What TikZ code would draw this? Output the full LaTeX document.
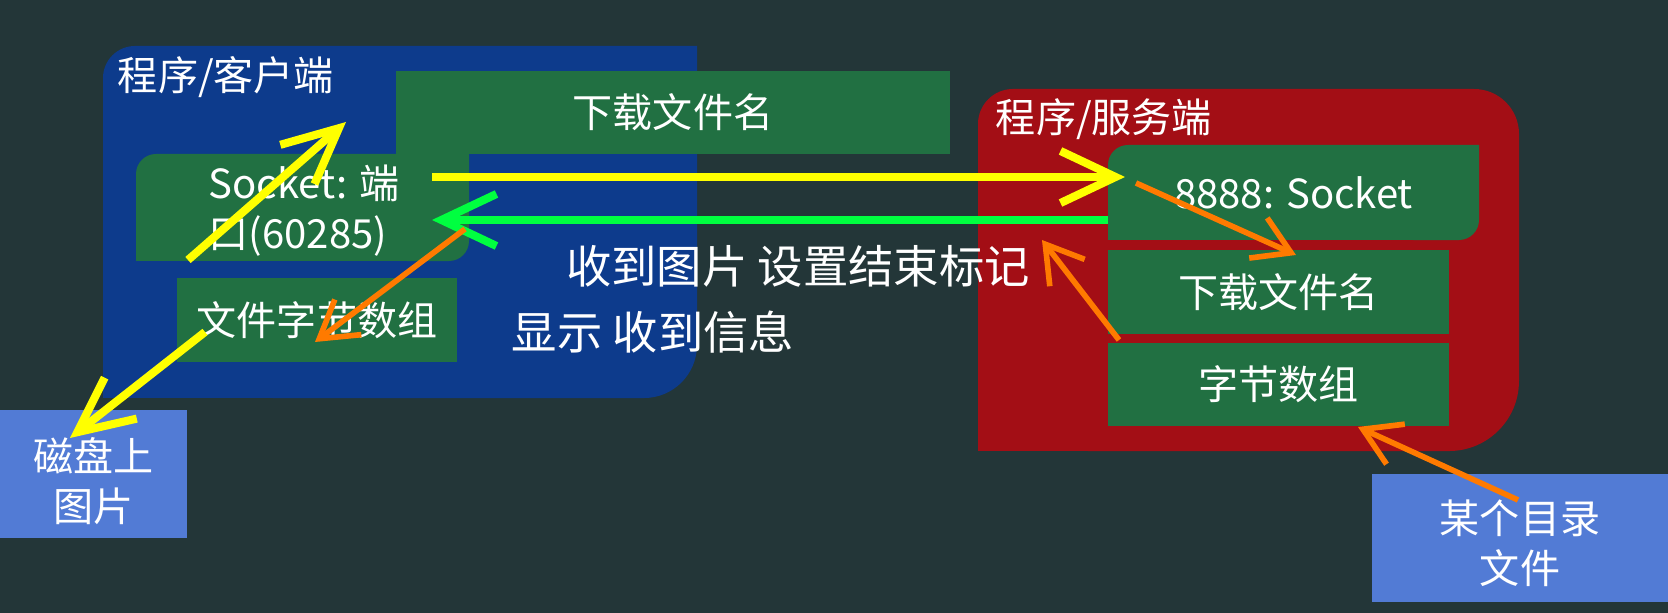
\documentclass[tikz,border=0pt]{standalone}
\usepackage{fontspec}
\setmainfont{Noto Sans CJK SC}
\usetikzlibrary{arrows.meta}
\definecolor{slate}{HTML}{233638}
\definecolor{clientblue}{HTML}{0D3B8C}
\definecolor{serverred}{HTML}{A30E15}
\definecolor{boxgreen}{HTML}{217042}
\definecolor{filebox}{HTML}{527BD5}
\definecolor{ylw}{HTML}{FFFF00}
\definecolor{grn}{HTML}{00FF40}
\definecolor{org}{HTML}{FF7A00}
\begin{document}
\begin{tikzpicture}[x=0.01cm, y=-0.01cm,
txt/.style={text=white, inner sep=0pt, align=center, font=\fontsize{11.4}{14.2}\selectfont},
note/.style={txt, font=\fontsize{12.9}{15}\selectfont},
part/.style={txt, fill=boxgreen},
file/.style={txt, fill=filebox},
send/.style={-{Straight Barb[length=5.5mm,width=5.2mm]}, line width=2.3pt},
move/.style={-{Straight Barb[length=3.6mm,width=4.4mm]}, line width=1.6pt, draw=org}
]
\fill[slate] (0,0) rectangle (1668,613);
\useasboundingbox (0,0) rectangle (1668,613);

% client side
\fill[clientblue] (103,398) -- (103,78) arc[start angle=180, end angle=90, radius=3.2mm]
  -- (697,46) -- (697,345) arc[start angle=0, end angle=-90, radius=5.3mm] -- cycle;
\fill[boxgreen] (136,261) -- (136,174) arc[start angle=180, end angle=90, radius=2mm]
  -- (469,154) -- (469,241) arc[start angle=0, end angle=-90, radius=2mm] -- cycle;
\node[txt] (clabel) at (226,77) {程序/客户端};
\node[part, minimum width=5.54cm, minimum height=0.83cm] (cname) at (673,112.5) {下载文件名};
\node[txt, align=left] (csock) at (304,211) {Socket: 端\\口(60285)};
\node[part, minimum width=2.8cm, minimum height=0.84cm] (cbytes) at (317,320) {文件字节数组};
\node[file, minimum width=1.87cm, minimum height=1.28cm] (disk) at (93.5,474) {};
\node[txt] (disktext) at (93.5,481) {磁盘上\\图片};

% server side
\fill[serverred] (978,451) -- (978,124) arc[start angle=180, end angle=90, radius=3.5mm]
  -- (1474,89) arc[start angle=90, end angle=0, radius=4.5mm]
  -- (1519,381) arc[start angle=0, end angle=-90, radius=7mm] -- cycle;
\fill[boxgreen] (1108,240) -- (1108,165) arc[start angle=180, end angle=90, radius=2mm]
  -- (1479,145) -- (1479,220) arc[start angle=0, end angle=-90, radius=2mm] -- cycle;
\node[txt] (slabel) at (1104,119) {程序/服务端};
\node[txt, minimum width=3.71cm, minimum height=0.95cm] (ssock) at (1293.5,192.5) {8888: Socket};
\node[part, minimum width=3.41cm, minimum height=0.84cm] (sname) at (1278.5,292) {下载文件名};
\node[part, minimum width=3.41cm, minimum height=0.83cm] (sbytes) at (1278.5,384.5) {字节数组};
\node[file, minimum width=2.96cm, minimum height=1.28cm] (dir) at (1520,538) {};
\node[txt] (dirtext) at (1520,543) {某个目录\\文件};

\node[note] (recv) at (798,266) {收到图片 设置结束标记};
\node[note] (shown) at (653,332) {显示 收到信息};

% arrow ends
\coordinate (upfrom) at (188,260);
\coordinate (upto) at (346,122);
\coordinate (reqfrom) at (432,177);
\coordinate (reqto) at (1125,177);
\coordinate (ackfrom) at (1108,220);
\coordinate (ackto) at (432,220);
\coordinate (savefrom) at (465,229);
\coordinate (saveto) at (315,342);
\coordinate (readfrom) at (1136,183);
\coordinate (readto) at (1296,255);
\coordinate (sentfrom) at (1119,340);
\coordinate (sentto) at (1042,240);
\coordinate (loadfrom) at (1518,500);
\coordinate (loadto) at (1358,427);
\coordinate (diskfrom) at (205,332);
\coordinate (diskto) at (70,438);

\draw[send, ylw] (upfrom) -- (upto);
\draw[send, ylw] (reqfrom) -- (reqto);
\draw[send, grn] (ackfrom) -- (ackto);
\draw[send, ylw] (diskfrom) -- (diskto);
\draw[move] (savefrom) -- (saveto);
\draw[move] (readfrom) -- (readto);
\draw[move] (sentfrom) -- (sentto);
\draw[move] (loadfrom) -- (loadto);
\end{tikzpicture}
\end{document}
